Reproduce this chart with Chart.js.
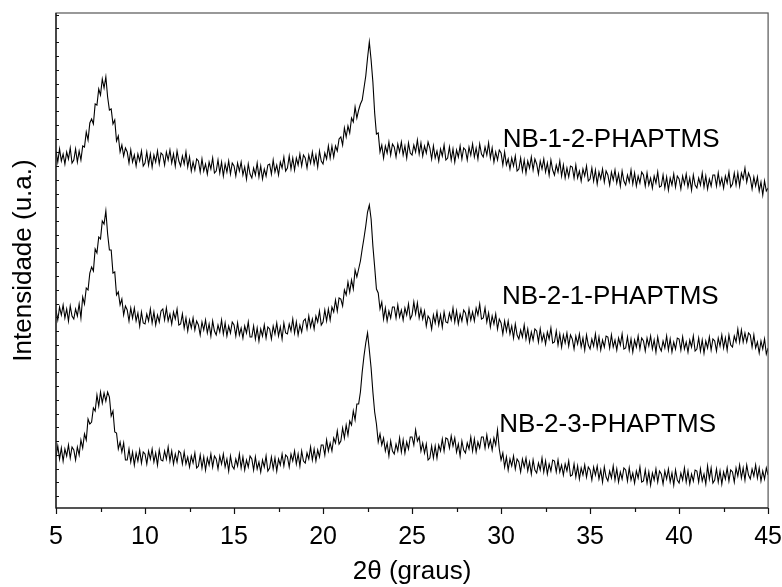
<!DOCTYPE html>
<html>
<head>
<meta charset="utf-8">
<script src="https://cdn.jsdelivr.net/npm/chart.js@4.4.0/dist/chart.umd.min.js"></script>
<style>
  html, body { margin: 0; padding: 0; background: #fff; }
</style>
</head>
<body>
<canvas id="xrd" width="782" height="587"></canvas>
<script>
// 2theta amostrado a cada 0.1 grau, de 5 a 45
const thetaStart = 5;
const thetaStep = 0.1;

// intensidade (u.a.), uma linha por grau
const nb12 = [
  357, 346, 359, 347, 354, 344, 356, 349, 360, 345,
  348, 359, 346, 357, 348, 362, 361, 376, 368, 385,
  389, 384, 404, 403, 419, 413, 429, 420, 431, 411,
  398, 399, 384, 388, 367, 372, 356, 363, 352, 360,
  356, 345, 358, 346, 353, 342, 354, 347, 357, 342,
  345, 356, 343, 354, 341, 353, 346, 357, 344, 355,
  353, 343, 356, 348, 358, 345, 354, 342, 357, 347,
  342, 352, 344, 356, 341, 351, 337, 346, 338, 349,
  347, 336, 349, 337, 344, 334, 346, 339, 350, 335,
  337, 348, 335, 346, 332, 344, 336, 347, 334, 345,
  342, 332, 345, 337, 346, 333, 341, 329, 344, 334,
  330, 340, 333, 345, 331, 342, 329, 339, 332, 343,
  344, 334, 348, 336, 343, 333, 346, 340, 351, 337,
  340, 352, 339, 350, 338, 350, 343, 354, 342, 353,
  350, 340, 353, 345, 356, 344, 353, 341, 357, 347,
  344, 355, 349, 362, 350, 362, 351, 362, 357, 369,
  371, 363, 380, 371, 382, 375, 390, 386, 401, 390,
  398, 404, 408, 420, 432, 450, 466, 448, 426, 395,
  374, 375, 356, 363, 350, 362, 355, 366, 353, 364,
  361, 351, 364, 356, 366, 353, 362, 350, 365, 355,
  353, 363, 356, 368, 354, 365, 352, 362, 355, 366,
  360, 349, 362, 350, 357, 347, 359, 352, 363, 348,
  350, 361, 348, 359, 346, 358, 351, 362, 349, 360,
  358, 348, 361, 353, 364, 351, 360, 349, 364, 354,
  351, 361, 353, 365, 350, 360, 346, 356, 348, 358,
  355, 343, 356, 343, 349, 339, 350, 342, 352, 337,
  339, 350, 337, 348, 335, 347, 340, 351, 338, 349,
  344, 334, 347, 339, 349, 336, 345, 333, 348, 338,
  333, 343, 336, 347, 332, 343, 330, 340, 331, 342,
  341, 330, 343, 330, 337, 327, 339, 332, 342, 327,
  329, 340, 327, 338, 324, 336, 329, 339, 326, 337,
  333, 323, 336, 328, 338, 325, 334, 322, 337, 327,
  323, 333, 326, 338, 324, 335, 322, 332, 325, 336,
  333, 322, 335, 323, 330, 320, 332, 325, 336, 321,
  322, 333, 320, 331, 318, 330, 323, 334, 321, 332,
  329, 319, 332, 324, 334, 321, 330, 318, 333, 323,
  320, 330, 323, 335, 321, 332, 319, 329, 322, 333,
  333, 322, 335, 323, 330, 320, 332, 325, 336, 321,
  324, 335, 323, 335, 322, 335, 329, 340, 326, 335,
  330, 319, 331, 322, 331, 317, 326, 313, 327, 317,
  320
];

const nb21 = [
  198, 188, 201, 193, 203, 190, 199, 187, 202, 192,
  189, 199, 192, 204, 190, 211, 204, 220, 218, 235,
  241, 237, 259, 255, 271, 269, 287, 284, 297, 274,
  258, 258, 235, 236, 213, 216, 203, 209, 193, 202,
  198, 187, 200, 190, 200, 187, 195, 182, 196, 185,
  184, 194, 187, 199, 185, 196, 183, 193, 186, 197,
  199, 188, 200, 187, 194, 184, 196, 189, 199, 183,
  184, 194, 180, 190, 177, 188, 180, 190, 178, 187,
  183, 173, 186, 178, 188, 175, 184, 172, 187, 177,
  173, 183, 176, 188, 174, 185, 172, 182, 175, 186,
  183, 172, 185, 173, 180, 170, 182, 175, 186, 171,
  171, 182, 169, 180, 167, 179, 172, 183, 170, 181,
  179, 169, 182, 174, 185, 172, 181, 169, 185, 175,
  174, 184, 177, 189, 175, 186, 173, 183, 176, 187,
  189, 179, 192, 181, 189, 179, 192, 186, 197, 183,
  186, 198, 187, 199, 188, 201, 196, 208, 197, 210,
  209, 202, 218, 213, 226, 216, 228, 219, 238, 231,
  239, 247, 259, 270, 282, 296, 303, 289, 262, 241,
  219, 215, 199, 206, 189, 200, 187, 197, 190, 201,
  201, 190, 203, 191, 198, 188, 200, 193, 204, 189,
  193, 206, 194, 205, 190, 199, 189, 197, 182, 192,
  189, 179, 193, 185, 196, 183, 193, 181, 196, 186,
  185, 195, 188, 200, 186, 197, 184, 194, 187, 198,
  195, 185, 199, 188, 196, 187, 200, 193, 204, 189,
  190, 200, 186, 195, 181, 192, 184, 194, 179, 189,
  185, 174, 187, 177, 187, 174, 182, 170, 184, 173,
  169, 178, 171, 183, 169, 179, 166, 176, 168, 179,
  177, 166, 179, 167, 174, 164, 176, 169, 180, 165,
  166, 177, 163, 174, 161, 173, 165, 175, 162, 173,
  169, 159, 172, 164, 174, 161, 170, 158, 173, 163,
  159, 169, 162, 174, 160, 171, 158, 168, 161, 172,
  171, 160, 173, 161, 168, 158, 170, 163, 174, 159,
  160, 171, 158, 169, 156, 168, 161, 172, 159, 170,
  167, 157, 170, 162, 172, 159, 168, 156, 171, 161,
  157, 167, 160, 172, 158, 169, 156, 166, 159, 170,
  169, 158, 171, 159, 166, 156, 168, 161, 172, 157,
  159, 170, 157, 168, 155, 167, 160, 171, 158, 169,
  167, 157, 170, 162, 173, 160, 170, 158, 173, 163,
  161, 172, 166, 179, 166, 178, 166, 175, 166, 175,
  173, 161, 173, 160, 166, 155, 167, 159, 169, 154,
  160
];

const nb23 = [
  51, 62, 49, 60, 47, 59, 52, 63, 50, 61,
  58, 48, 61, 53, 68, 60, 74, 68, 89, 84,
  86, 100, 97, 113, 102, 116, 105, 115, 107, 116,
  111, 92, 97, 76, 75, 59, 66, 56, 65, 48,
  48, 59, 46, 56, 43, 55, 47, 58, 45, 56,
  54, 44, 57, 49, 59, 46, 55, 43, 58, 48,
  47, 57, 49, 61, 47, 57, 44, 54, 46, 57,
  55, 44, 56, 44, 51, 41, 52, 45, 55, 40,
  42, 53, 40, 51, 38, 50, 43, 54, 41, 52,
  49, 39, 52, 44, 54, 41, 49, 37, 52, 42,
  39, 49, 42, 54, 40, 51, 38, 48, 41, 52,
  49, 38, 51, 39, 46, 36, 48, 41, 52, 37,
  40, 51, 39, 50, 37, 49, 43, 54, 42, 53,
  51, 41, 54, 47, 57, 44, 54, 42, 57, 47,
  45, 55, 49, 61, 48, 59, 47, 58, 51, 63,
  63, 53, 68, 57, 65, 57, 70, 65, 77, 64,
  67, 80, 70, 83, 73, 87, 83, 97, 88, 104,
  104, 116, 136, 152, 165, 175, 158, 140, 116, 96,
  84, 66, 74, 63, 70, 57, 65, 52, 67, 57,
  54, 64, 57, 70, 56, 68, 55, 66, 59, 71,
  71, 63, 78, 67, 71, 57, 65, 55, 64, 48,
  50, 62, 50, 62, 50, 63, 57, 69, 57, 70,
  69, 60, 72, 62, 70, 56, 64, 52, 67, 58,
  55, 65, 59, 71, 57, 69, 56, 66, 60, 71,
  71, 60, 73, 61, 68, 58, 70, 63, 78, 59,
  48, 55, 41, 51, 38, 49, 42, 52, 39, 49,
  46, 36, 49, 41, 50, 37, 46, 34, 48, 38,
  35, 45, 38, 50, 36, 47, 34, 44, 37, 48,
  47, 36, 48, 36, 43, 33, 44, 37, 47, 32,
  33, 44, 31, 42, 29, 40, 33, 43, 31, 41,
  38, 28, 41, 33, 42, 29, 38, 26, 41, 31,
  27, 37, 30, 42, 28, 39, 26, 36, 29, 40,
  38, 27, 40, 28, 35, 25, 37, 30, 41, 26,
  27, 38, 25, 36, 23, 35, 28, 39, 26, 37,
  34, 24, 37, 29, 39, 26, 35, 23, 38, 28,
  25, 35, 28, 40, 26, 37, 24, 34, 27, 38,
  37, 26, 39, 27, 34, 24, 42, 29, 40, 25,
  28, 39, 26, 37, 24, 36, 29, 40, 27, 38,
  36, 26, 40, 32, 43, 30, 40, 28, 43, 33,
  29, 39, 32, 43, 30, 40, 27, 37, 29, 40,
  33
];

const seriesNames = ["NB-1-2-PHAPTMS", "NB-2-1-PHAPTMS", "NB-2-3-PHAPTMS"];
const xTickLabels = [5, 10, 15, 20, 25, 30, 35, 40, 45];

// onde cada nome fica, em unidades (2theta, intensidade)
const namePlaces = [[30.1, 361], [30.05, 204], [29.9, 76]];

const FONT = "'Liberation Sans', Arial, sans-serif";

function toPoints(values) {
  return values.map((v, i) => ({ x: +(thetaStart + i * thetaStep).toFixed(1), y: v }));
}

const framePlugin = {
  id: "frame",
  afterDatasetsDraw(chart) {
    const { ctx, chartArea: a, scales } = chart;
    const xs = scales.x, ys = scales.y;
    ctx.save();

    // caixa do grafico
    ctx.strokeStyle = "#555";
    ctx.lineWidth = 1.2;
    ctx.strokeRect(a.left, a.top, a.right - a.left, a.bottom - a.top);
    ctx.strokeStyle = "#111";
    ctx.beginPath();
    ctx.moveTo(a.left, a.top);
    ctx.lineTo(a.left, a.bottom);
    ctx.lineTo(a.right, a.bottom);
    ctx.stroke();

    // ticks do eixo x (para fora)
    for (let v = 5; v <= 45.001; v += 2.5) {
      const px = Math.round(xs.getPixelForValue(v)) + 0.5;
      const len = Math.abs(v % 5) < 0.01 ? 6 : 4;
      ctx.beginPath();
      ctx.moveTo(px, a.bottom);
      ctx.lineTo(px, a.bottom + len);
      ctx.stroke();
    }

    // ticks menores do eixo y (para dentro)
    ctx.lineWidth = 1;
    for (let k = 0; k < 36; k++) {
      const py = Math.round(ys.getPixelForValue(12 + k * 13.75)) + 0.5;
      ctx.beginPath();
      ctx.moveTo(a.left, py);
      ctx.lineTo(a.left + 3, py);
      ctx.stroke();
    }

    // nomes das amostras
    ctx.fillStyle = "#000";
    ctx.font = "26px " + FONT;
    ctx.textBaseline = "alphabetic";
    ctx.textAlign = "left";
    seriesNames.forEach((name, i) => {
      ctx.fillText(name, xs.getPixelForValue(namePlaces[i][0]), ys.getPixelForValue(namePlaces[i][1]));
    });
    ctx.restore();
  }
};

new Chart(document.getElementById("xrd"), {
  type: "line",
  data: {
    datasets: [nb12, nb21, nb23].map((vals, i) => ({
      label: seriesNames[i],
      data: toPoints(vals),
      borderColor: "#000",
      borderWidth: 1.1,
      pointRadius: 0,
      tension: 0,
      fill: false
    }))
  },
  options: {
    responsive: false,
    animation: false,
    devicePixelRatio: 1,
    layout: { padding: { top: 13, right: 0, left: 0, bottom: 0 } },
    plugins: { legend: { display: false }, tooltip: { enabled: false } },
    scales: {
      x: {
        type: "linear",
        min: 5,
        max: 45,
        // marcas desenhadas no plugin; tickLength so reserva o espaco
        grid: { display: false, drawTicks: true, tickLength: 14 },
        border: { display: false },
        ticks: {
          stepSize: 2.5,
          autoSkip: false,
          maxRotation: 0,
          padding: 0,
          color: "#000",
          font: { family: FONT, size: 25 },
          callback: (v) => (xTickLabels.includes(v) ? String(v) : "")
        },
        title: {
          display: true,
          text: "2θ (graus)",
          color: "#000",
          font: { family: FONT, size: 26 },
          padding: { top: 0, bottom: 0 }
        },
        afterFit: (s) => { s.height = 79; }
      },
      y: {
        min: 0,
        max: 495,
        grid: { display: false, drawTicks: false },
        border: { display: false },
        ticks: { display: false },
        title: {
          display: true,
          text: "Intensidade (u.a.)",
          color: "#000",
          font: { family: FONT, size: 26 },
          padding: { top: 8, bottom: 0 }
        },
        afterFit: (s) => { s.width = 56; }
      }
    }
  },
  plugins: [framePlugin]
});
</script>
</body>
</html>
